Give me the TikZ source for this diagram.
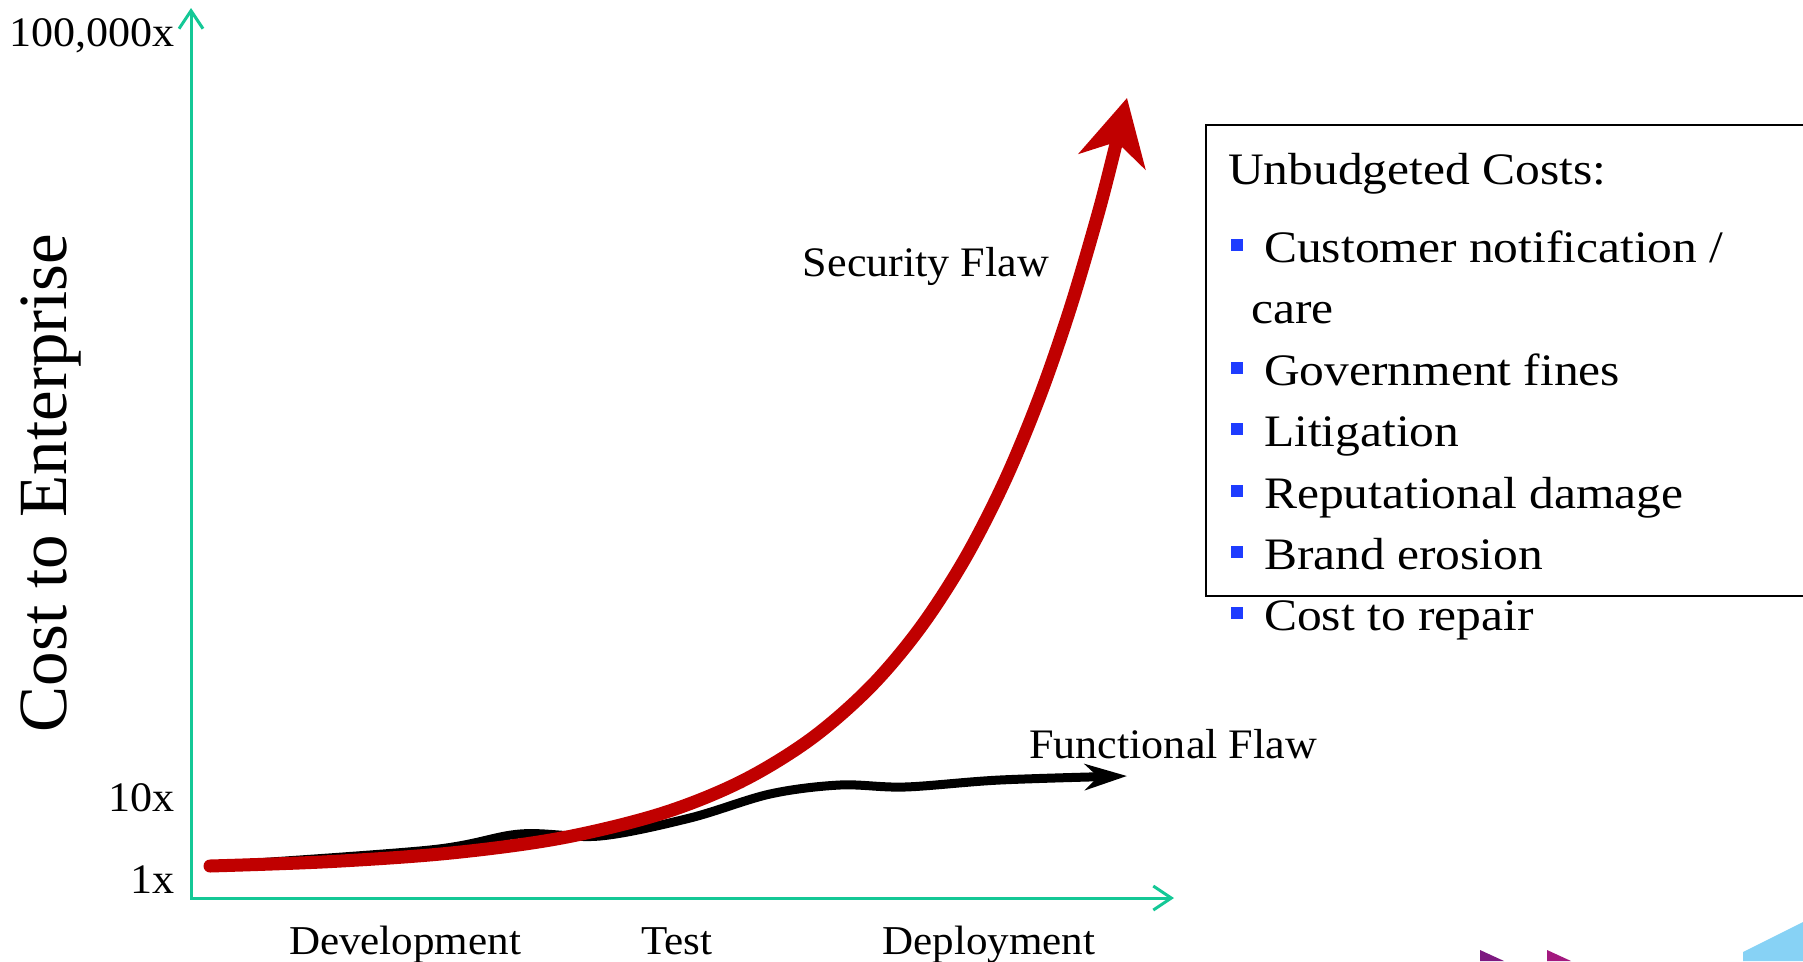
\documentclass[tikz,border=0pt]{standalone}
\usepackage{fontspec}
\setmainfont{Liberation Serif}
\newfontfamily\boxfont[FakeStretch=1.1]{Liberation Serif}
\newfontfamily\lblfont[FakeStretch=1.05]{Liberation Serif}
\usetikzlibrary{arrows.meta}

\definecolor{axisgreen}{RGB}{20,200,150}
\definecolor{flawred}{RGB}{192,0,0}
\definecolor{bulletblue}{RGB}{30,60,255}
\definecolor{tmplpurple}{RGB}{125,25,128}
\definecolor{tmplmagenta}{RGB}{163,25,127}
\definecolor{tmplsky}{RGB}{135,210,245}

\tikzset{
  axisline/.style={draw=axisgreen, line width=3pt,
    {Straight Barb[length=18pt,width=24pt]}-{Straight Barb[length=18pt,width=24pt]}},
  ticklbl/.style={font=\lblfont\fontsize{42}{50}\selectfont, inner sep=0pt, anchor=base east},
  phaselbl/.style={font=\lblfont\fontsize{41}{49}\selectfont, inner sep=0pt, anchor=base},
  flawlbl/.style={font=\lblfont\fontsize{42}{50}\selectfont, inner sep=0pt},
  ylabel/.style={font=\fontsize{69}{80}\selectfont, inner sep=0pt, rotate=90, anchor=base},
  secflaw/.style={draw=flawred, line width=13pt, line cap=round,
    -{Stealth[length=65pt,width=68pt,inset=20pt]}},
  funcflaw/.style={draw=black, line width=9pt, line cap=round,
    -{Stealth[length=42pt,width=26pt,inset=13pt]}},
  costbox/.style={draw=black, line width=2.5pt},
  boxtitle/.style={font=\boxfont\fontsize{45}{54}\selectfont, inner sep=0pt, anchor=base west},
  boxitem/.style={font=\boxfont\fontsize{45}{54}\selectfont, inner sep=0pt, anchor=base west},
  bulletsq/.style={fill=bulletblue, minimum size=12pt, inner sep=0pt}
}

\begin{document}
\begin{tikzpicture}[x=1pt,y=-1pt]
\useasboundingbox (0,0) rectangle (1803,961);
\clip (0,0) rectangle (1803,961);

% axes
\coordinate (ytop) at (191,8);
\coordinate (corner) at (191,898);
\coordinate (xend) at (1174,898);
\draw[axisline] (ytop) -- (corner) -- (xend);

% axis labels
\node[ticklbl] (t100k) at (175,46) {100,000x};
\node[ticklbl] (t10) at (175,811) {10x};
\node[ticklbl] (t1) at (175,893) {1x};
\node[ylabel] (ylab) at (66,483) {Cost to Enterprise};
\node[phaselbl] (pdev) at (405,954) {Development};
\node[phaselbl] (ptest) at (677,954) {Test};
\node[phaselbl] (pdep) at (989,954) {Deployment};

% functional flaw curve
\coordinate (start) at (210,866);
\coordinate (f1) at (430,850);
\coordinate (f2) at (520,834);
\coordinate (f3) at (600,836);
\coordinate (f4) at (690,818);
\coordinate (f5) at (770,794);
\coordinate (f6) at (840,785);
\coordinate (f7) at (905,787);
\coordinate (f8) at (1000,780);
\coordinate (ftip) at (1127,776);
\draw[funcflaw] plot[smooth, tension=0.55] coordinates
  {(start) (f1) (f2) (f3) (f4) (f5) (f6) (f7) (f8) (ftip)};

% security flaw curve: samples of an exponential growth
\coordinate (s1) at (330,861.6);
\coordinate (s2) at (450,853.1);
\coordinate (s3) at (560,838.3);
\coordinate (s4) at (660,814.0);
\coordinate (s5) at (740,782.1);
\coordinate (s6) at (810,739.6);
\coordinate (s7) at (870,687.4);
\coordinate (s8) at (920,628.1);
\coordinate (s9) at (965,558.6);
\coordinate (s10) at (1005,480.4);
\coordinate (s11) at (1040,395.8);
\coordinate (s12) at (1070,309.0);
\coordinate (s13) at (1097,217.6);
\coordinate (s14) at (1113,156.2);
\coordinate (stip) at (1127,98);
\draw[secflaw] plot[smooth, tension=0.55] coordinates
  {(start) (s1) (s2) (s3) (s4) (s5) (s6) (s7) (s8) (s9) (s10) (s11) (s12) (s13) (s14) (stip)};

\node[flawlbl, anchor=base] (seclbl) at (926,276) {Security Flaw};
\node[flawlbl, anchor=base west] (funclbl) at (1029,758) {Functional Flaw};

% unbudgeted costs box
\draw[costbox] (1206,125) rectangle (1860,596);
\node[boxtitle] (btitle) at (1228,184) {Unbudgeted Costs:};
\node[bulletsq] (b1) at (1237,245) {};
\node[boxitem] (i1) at (1264,262) {Customer notification /};
\node[boxitem] (i1b) at (1251,323) {care};
\node[bulletsq] (b2) at (1237,368) {};
\node[boxitem] (i2) at (1264,385) {Government fines};
\node[bulletsq] (b3) at (1237,429) {};
\node[boxitem] (i3) at (1264,446) {Litigation};
\node[bulletsq] (b4) at (1237,491) {};
\node[boxitem] (i4) at (1264,508) {Reputational damage};
\node[bulletsq] (b5) at (1237,552) {};
\node[boxitem] (i5) at (1264,569) {Brand erosion};
\node[bulletsq] (b6) at (1237,613) {};
\node[boxitem] (i6) at (1264,630) {Cost to repair};

% slide template corner shapes
\fill[tmplpurple] (1480,950) -- (1504,961) -- (1480,961) -- cycle;
\fill[tmplmagenta] (1547,950) -- (1571,961) -- (1547,961) -- cycle;
\fill[tmplsky] (1743,952) -- (1803,922) -- (1803,961) -- (1743,961) -- cycle;
\end{tikzpicture}
\end{document}
